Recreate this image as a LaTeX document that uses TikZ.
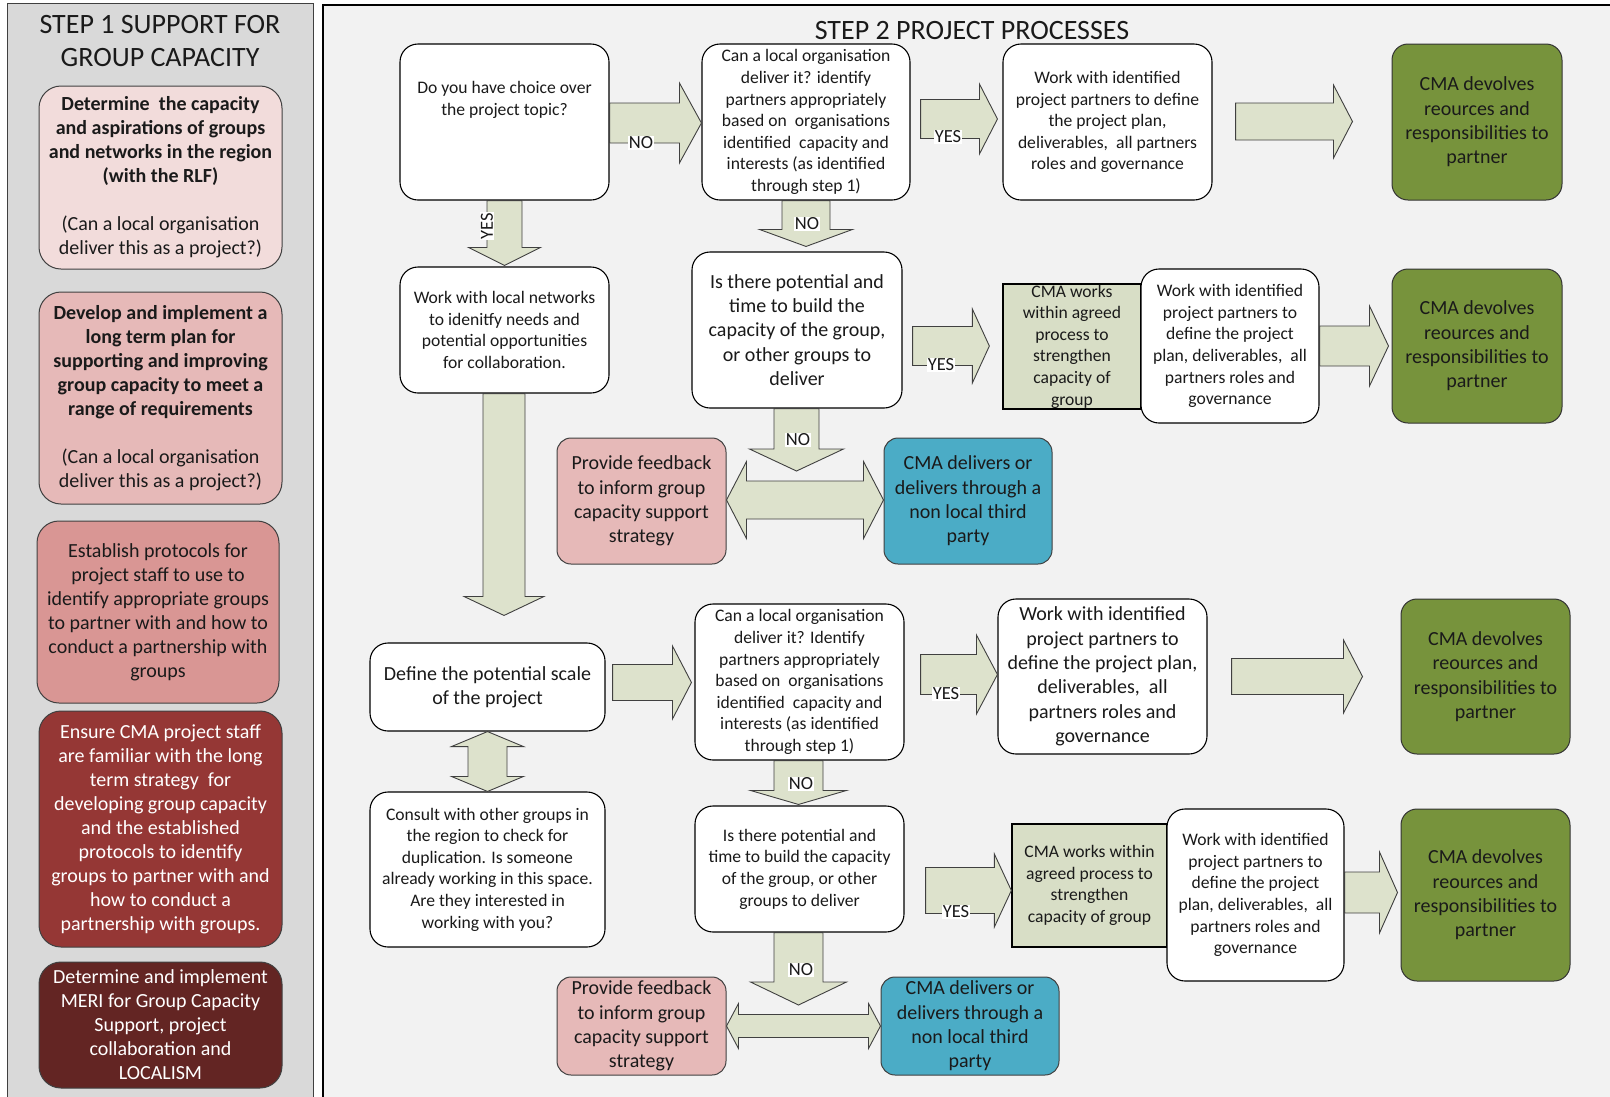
\documentclass[tikz,border=0pt]{standalone}
\usepackage{fontspec}
\setmainfont{Carlito}
\usetikzlibrary{calc}
\definecolor{panelL}{HTML}{D9D9D9}
\definecolor{panelR}{HTML}{F2F2F2}
\definecolor{sideA}{HTML}{F2DCDB}
\definecolor{sideB}{HTML}{E6B9B8}
\definecolor{sideC}{HTML}{D99694}
\definecolor{sideD}{HTML}{953735}
\definecolor{sideE}{HTML}{632523}
\definecolor{greenbox}{HTML}{77933C}
\definecolor{bluebox}{HTML}{4BACC6}
\definecolor{pinkbox}{HTML}{E6B9B8}
\definecolor{olivebox}{HTML}{D8DEC6}
\definecolor{arrowfill}{HTML}{DDE2CC}
\definecolor{txtdark}{HTML}{1A1A1A}

\tikzset{
  sz/.style 2 args={minimum width=#1pt, minimum height=#2pt},
  ts/.style={align=center, font=\fontsize{17.6}{21.6}\selectfont, text=txtdark},
  tm/.style={align=center, font=\fontsize{20}{24.4}\selectfont, text=txtdark},
  tside/.style={align=center, font=\fontsize{20}{24}\selectfont, text=txtdark},
  wbox/.style={draw=black, line width=1.1pt, rounded corners=18pt, fill=white, inner sep=0pt},
  gbox/.style={draw=black!80, line width=1pt, rounded corners=16pt, fill=greenbox, inner sep=0pt},
  obox/.style={draw=black, line width=1.3pt, fill=olivebox, inner sep=0pt},
  pbox/.style={draw=black!75, line width=1pt, rounded corners=14pt, fill=pinkbox, inner sep=0pt},
  bbox/.style={draw=black!75, line width=1pt, rounded corners=14pt, fill=bluebox, inner sep=0pt},
  sbox/.style={draw=black!75, line width=1pt, rounded corners=22pt, inner sep=0pt},
  barrow/.style={draw=black!75, line width=0.9pt, fill=arrowfill, line join=miter},
  lab/.style={fill=white, inner sep=1pt, font=\fontsize{18.5}{21}\selectfont, text=txtdark},
  tipnode/.style={inner sep=0pt, minimum size=0pt, outer sep=0pt},
  title/.style={align=center, font=\fontsize{28}{33}\selectfont, text=txtdark}
}

% right block arrow: src, dst, start gap, end gap, y centre, shaft half, head half, head length
\newcommand\harr[8]{%
  \path[barrow] let \p1=(#1.east), \p2=(#2.west), \n1={\x1+#3}, \n2={\x2-#4}, \n3={\x2-#4-#8} in
  (\n1,{-#5+#6}) -- (\n3,{-#5+#6}) -- (\n3,{-#5+#7}) -- (\n2,-#5) -- (\n3,{-#5-#7}) -- (\n3,{-#5-#6}) -- (\n1,{-#5-#6}) -- cycle;}
% down block arrow: src, dst, start gap, end gap, x centre, shaft half, head half, head length
\newcommand\varr[8]{%
  \path[barrow] let \p1=(#1.south), \p2=(#2.north), \n1={\y1-#3}, \n2={\y2+#4}, \n3={\y2+#4+#8} in
  ({#5-#6},\n1) -- ({#5-#6},\n3) -- ({#5-#7},\n3) -- (#5,\n2) -- ({#5+#7},\n3) -- ({#5+#6},\n3) -- ({#5+#6},\n1) -- cycle;}
% double horizontal arrow: left, right, y centre, shaft half, head half, head length
\newcommand\dharr[6]{%
  \path[barrow] let \p1=(#1.east), \p2=(#2.west), \n4={\x1}, \n5={\x2}, \n1={\x1+#6}, \n2={\x2-#6} in
  (\n4,-#3) -- (\n1,{-#3+#5}) -- (\n1,{-#3+#4}) -- (\n2,{-#3+#4}) -- (\n2,{-#3+#5}) -- (\n5,-#3) -- (\n2,{-#3-#5}) -- (\n2,{-#3-#4}) -- (\n1,{-#3-#4}) -- (\n1,{-#3-#5}) -- cycle;}
% double vertical arrow: top, bottom, x centre, shaft half, head half, head length
\newcommand\dvarr[6]{%
  \path[barrow] let \p1=(#1.south), \p2=(#2.north), \n4={\y1}, \n5={\y2}, \n1={\y1-#6}, \n2={\y2+#6} in
  (#3,\n4) -- ({#3+#5},\n1) -- ({#3+#4},\n1) -- ({#3+#4},\n2) -- ({#3+#5},\n2) -- (#3,\n5) -- ({#3-#5},\n2) -- ({#3-#4},\n2) -- ({#3-#4},\n1) -- ({#3-#5},\n1) -- cycle;}

\begin{document}
\begin{tikzpicture}[x=1pt,y=1pt]
\clip (0,0) rectangle (1610,-1096);
\fill[white] (0,0) rectangle (1610,-1096);
\draw[fill=panelL, draw=black!75, line width=1pt] (7,-3) rectangle (313,-1110);
\draw[fill=panelR, draw=black, line width=1.2pt] (323,-5) rectangle (1625,-1110);

% ---------- STEP 1 ----------
\node[title] (t1) at (160,-41) {STEP 1 SUPPORT FOR\\GROUP CAPACITY};
\node[sbox, fill=sideA, tside, sz={243}{183}] (s1) at (160.5,-177.5)
  {\textbf{Determine\ \ the capacity}\\\textbf{and aspirations of groups}\\\textbf{and networks in the region}\\\textbf{(with the RLF)}\\[24pt](Can a local organisation\\deliver this as a project?)};
\node[sbox, fill=sideB, tside, sz={243}{212}] (s2) at (160.5,-398)
  {\textbf{Develop and implement a}\\\textbf{long term plan for}\\\textbf{supporting and improving}\\\textbf{group capacity to meet a}\\\textbf{range of requirements}\\[24pt](Can a local organisation\\deliver this as a project?)};
\node[sbox, fill=sideC, tside, sz={242}{182}] (s3) at (158,-612)
  {Establish protocols for\\project staff to use to\\identify appropriate groups\\to partner with and how to\\conduct a partnership with\\groups};
\node[sbox, fill=sideD, tside, text=white, sz={243}{236}] (s4) at (160.5,-829)
  {Ensure CMA project staff\\are familiar with the long\\term strategy\ \ for\\developing group capacity\\and the established\\protocols to identify\\groups to partner with and\\how to conduct a\\partnership with groups.};
\node[sbox, fill=sideE, tside, text=white, sz={243}{126}] (s5) at (160.5,-1025)
  {Determine and implement\\MERI for Group Capacity\\Support, project\\collaboration and\\LOCALISM};

% ---------- STEP 2 ----------
\node[title] (t2) at (972,-31) {STEP 2 PROJECT PROCESSES};

\node[wbox, sz={209}{156}] (A) at (504.5,-122) {};
\node[ts] (Atext) at (504.5,-100) {Do you have choice over\\the project topic?};
\node[wbox, ts, sz={208}{156}] (B) at (806,-122)
  {Can a local organisation\\deliver it? identify\\partners appropriately\\based on\ \ organisations\\identified\ \ capacity and\\interests (as identified\\through step 1)};
\node[wbox, ts, sz={209}{156}] (C) at (1107.5,-122)
  {Work with identified\\project partners to define\\the project plan,\\deliverables,\ \ all partners\\roles and governance};
\node[gbox, tm, sz={170}{156}] (D) at (1477,-122)
  {CMA devolves\\reources and\\responsibilities to\\partner};

\node[wbox, ts, sz={209}{126}] (E) at (504.5,-330)
  {Work with local networks\\to idenitfy needs and\\potential opportunities\\for collaboration.};
\node[wbox, tm, sz={210}{156}] (F) at (797,-330)
  {Is there potential and\\time to build the\\capacity of the group,\\or other groups to\\deliver};
\node[obox, ts, sz={138}{125}] (G) at (1072,-346.5)
  {CMA works\\within agreed\\process to\\strengthen\\capacity of\\group};
\node[wbox, ts, sz={178}{154}] (H) at (1230,-346)
  {Work with identified\\project partners to\\define the project\\plan, deliverables,\ \ all\\partners roles and\\governance};
\node[gbox, tm, sz={170}{154}] (I) at (1477,-346)
  {CMA devolves\\reources and\\responsibilities to\\partner};

\node[pbox, tm, sz={169}{126}] (J) at (641.5,-501)
  {Provide feedback\\to inform group\\capacity support\\strategy};
\node[bbox, tm, sz={168}{126}] (K) at (968,-501)
  {CMA delivers or\\delivers through a\\non local third\\party};

\node[wbox, tm, sz={235}{88}] (L) at (487.5,-687)
  {Define the potential scale\\of the project};
\node[wbox, ts, sz={235}{155}] (M) at (487.5,-869.5)
  {Consult with other groups in\\the region to check for\\duplication. Is someone\\already working in this space.\\Are they interested in\\working with you?};
\node[wbox, ts, sz={209}{156}] (N) at (799.5,-682)
  {Can a local organisation\\deliver it? Identify\\partners appropriately\\based on\ \ organisations\\identified\ \ capacity and\\interests (as identified\\through step 1)};
\node[wbox, tm, sz={209}{155}] (O) at (1102.5,-676.5)
  {Work with identified\\project partners to\\define the project plan,\\deliverables,\ \ all\\partners roles and\\governance};
\node[gbox, tm, sz={169}{155}] (P) at (1485.5,-676.5)
  {CMA devolves\\reources and\\responsibilities to\\partner};

\node[wbox, ts, sz={209}{126}] (Q) at (799.5,-869)
  {Is there potential and\\time to build the capacity\\of the group, or other\\groups to deliver};
\node[obox, ts, sz={155}{123}] (R) at (1089.5,-885.5)
  {CMA works within\\agreed process to\\strengthen\\capacity of group};
\node[wbox, ts, sz={177}{172}] (S) at (1255.5,-895)
  {Work with identified\\project partners to\\define the project\\plan, deliverables,\ \ all\\partners roles and\\governance};
\node[gbox, tm, sz={169}{172}] (T) at (1485.5,-895)
  {CMA devolves\\reources and\\responsibilities to\\partner};

\node[pbox, tm, sz={169}{98}] (U) at (641.5,-1026)
  {Provide feedback\\to inform group\\capacity support\\strategy};
\node[bbox, tm, sz={178}{98}] (V) at (970,-1026)
  {CMA delivers or\\delivers through a\\non local third\\party};

% targets of the NO arrows
\node[tipnode] (fb1) at (796.5,-471) {};
\node[tipnode] (fb2) at (798.5,-1005) {};

% ---------- block arrows ----------
\harr{A}{B}{0}{0}{123}{20}{40}{22}
\harr{B}{C}{10}{5}{119}{19.5}{35}{18}
\harr{C}{D}{23}{39}{121.5}{18.5}{36.5}{19}
\varr{A}{E}{0}{1}{504.5}{17.5}{36}{18}
\varr{B}{F}{0}{5}{806}{24}{46.5}{17}
\harr{F}{G}{10}{13}{346}{19.5}{37}{17}
\harr{H}{I}{0}{3}{346}{20}{40}{19}
\dharr{J}{K}{500}{19}{38.5}{20}
\varr{F}{fb1}{0}{0}{796.5}{22.5}{47}{22}
\varr{E}{L}{0}{27}{504}{21}{40}{19}
\dvarr{L}{M}{487.5}{19.5}{36}{15}
\harr{L}{N}{7}{3}{682.5}{18}{36.5}{19}
\harr{N}{O}{16}{0}{674.5}{20}{39.5}{21}
\harr{O}{P}{24}{38}{676.5}{18}{36.5}{19}
\varr{N}{Q}{0}{1}{798.5}{24.5}{48}{14}
\harr{Q}{R}{21}{0}{890.5}{23}{36.5}{17}
\harr{S}{T}{0}{3}{892.5}{20.5}{40.5}{18}
\dharr{U}{V}{1026}{11.5}{22.5}{12}
\varr{Q}{fb2}{0}{0}{798.5}{24.5}{48}{23}

% ---------- labels ----------
\node[lab] (l1) at (641,-143) {NO};
\node[lab] (l2) at (948,-137) {YES};
\node[lab, rotate=90] (l3) at (487,-226) {YES};
\node[lab] (l4) at (807,-224) {NO};
\node[lab] (l5) at (941,-365) {YES};
\node[lab] (l6) at (798,-440) {NO};
\node[lab] (l7) at (946,-694) {YES};
\node[lab] (l8) at (801,-784) {NO};
\node[lab] (l9) at (956,-912) {YES};
\node[lab] (l10) at (801,-970) {NO};
\end{tikzpicture}
\end{document}
